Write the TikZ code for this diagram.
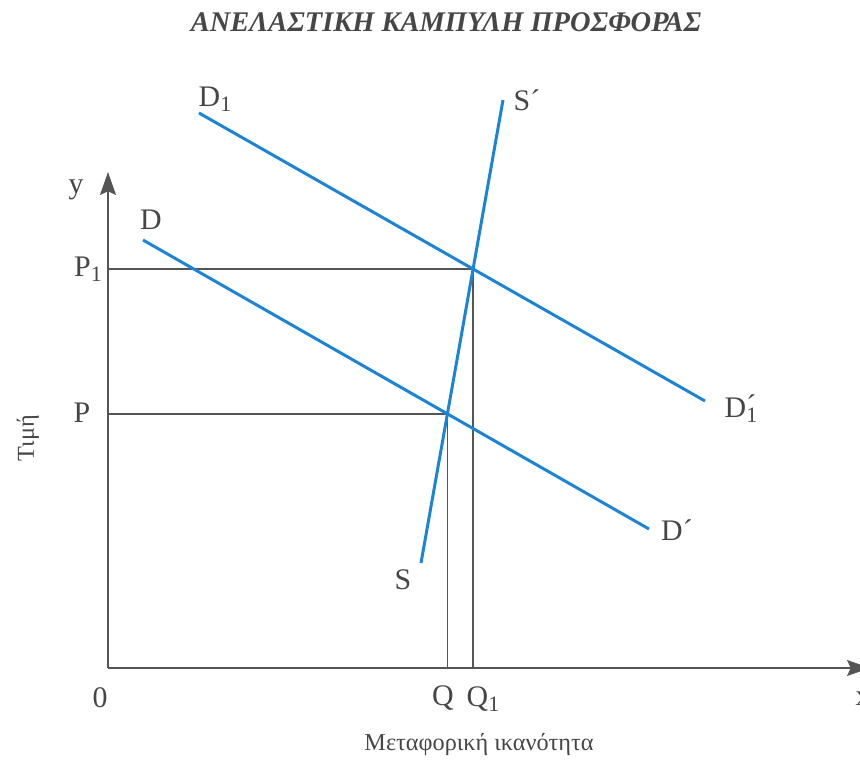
\documentclass[tikz,border=0pt]{standalone}
\usepackage{fontspec}
\setmainfont{Liberation Serif}
\usepackage{xcolor}
\usetikzlibrary{arrows.meta,positioning}
\definecolor{curveblue}{RGB}{28,132,214}
\definecolor{axisgray}{RGB}{85,85,85}
\definecolor{textgray}{RGB}{70,70,70}
\newcommand{\idx}[1]{\raisebox{-0.4ex}{\fontsize{12.5}{14}\selectfont #1}}
\newcommand{\acc}{\makebox[0pt][l]{\raisebox{0.1ex}{´}}}

\begin{document}
\begin{tikzpicture}[
x=0.02cm, y=-0.02cm,
curve/.style={
line width=1.7pt,
color=curveblue
},
axis/.style={
-{Stealth[length=13pt,width=9pt,inset=2pt]},
line width=1pt,
color=axisgray
},
guide/.style={
line width=0.7pt,
color=axisgray
},
lab/.style={
font=\fontsize{17}{20}\selectfont,
color=textgray,
inner sep=0pt
},
axlab/.style={
font=\fontsize{13.8}{16}\selectfont,
color=textgray,
inner sep=0pt
}
]
\useasboundingbox (0,0) rectangle (860,764);

\node[font=\fontsize{16.2}{19}\selectfont\bfseries\itshape,color=textgray] (title) at (446,22)
{ΑΝΕΛΑΣΤΙΚΗ ΚΑΜΠΥΛΗ ΠΡΟΣΦΟΡΑΣ};

% axes
\coordinate (o) at (108,668);
\coordinate (ytop) at (108,172);
\coordinate (xend) at (870,668);
\draw[axis] (o) -- (ytop);
\draw[axis] (o) -- (xend);

% demand and supply
\coordinate (d1a) at (199,113);
\coordinate (d1b) at (705,401);
\coordinate (da) at (143,240);
\coordinate (db) at (649,529);
\coordinate (sa) at (421,563);
\coordinate (sb) at (503,100);

\coordinate (e) at (intersection of da--db and sa--sb);
\coordinate (e1) at (intersection of d1a--d1b and sa--sb);

\draw[guide] (o |- e) -- (e) -- (e |- o);
\draw[guide] (o |- e1) -- (e1) -- (e1 |- o);

\draw[curve] (d1a) -- (d1b);
\draw[curve] (da) -- (db);
\draw[curve] (sa) -- (sb);

% labels
\node[lab] (ylab) at (76,190) {y};
\node[lab] (xlab) at (863,699) {x};
\node[lab] (zero) at (100,698) {0};
\node[lab] (plab) at (82,413) {P};
\node[lab] (p1lab) at (88,269) {P\idx{1}};
\node[lab] (qlab) at (443,698) {Q};
\node[lab] (q1lab) at (483,699) {Q\idx{1}};
\node[lab] (d1lab) at (215,99) {D\idx{1}};
\node[lab] (dlab) at (151,220) {D};
\node[lab] (slab) at (403,580) {S};
\node[lab] (s2lab) at (527,100) {S´};
\node[lab] (d2lab) at (677,530) {D´};
\node[lab] (d12lab) at (741,409) {D\acc\idx{1}};

\node[axlab,rotate=90] (price) at (28,438) {Τιμή};
\node[axlab] (qty) at (479,745) {Μεταφορική ικανότητα};

\end{tikzpicture}
\end{document}
